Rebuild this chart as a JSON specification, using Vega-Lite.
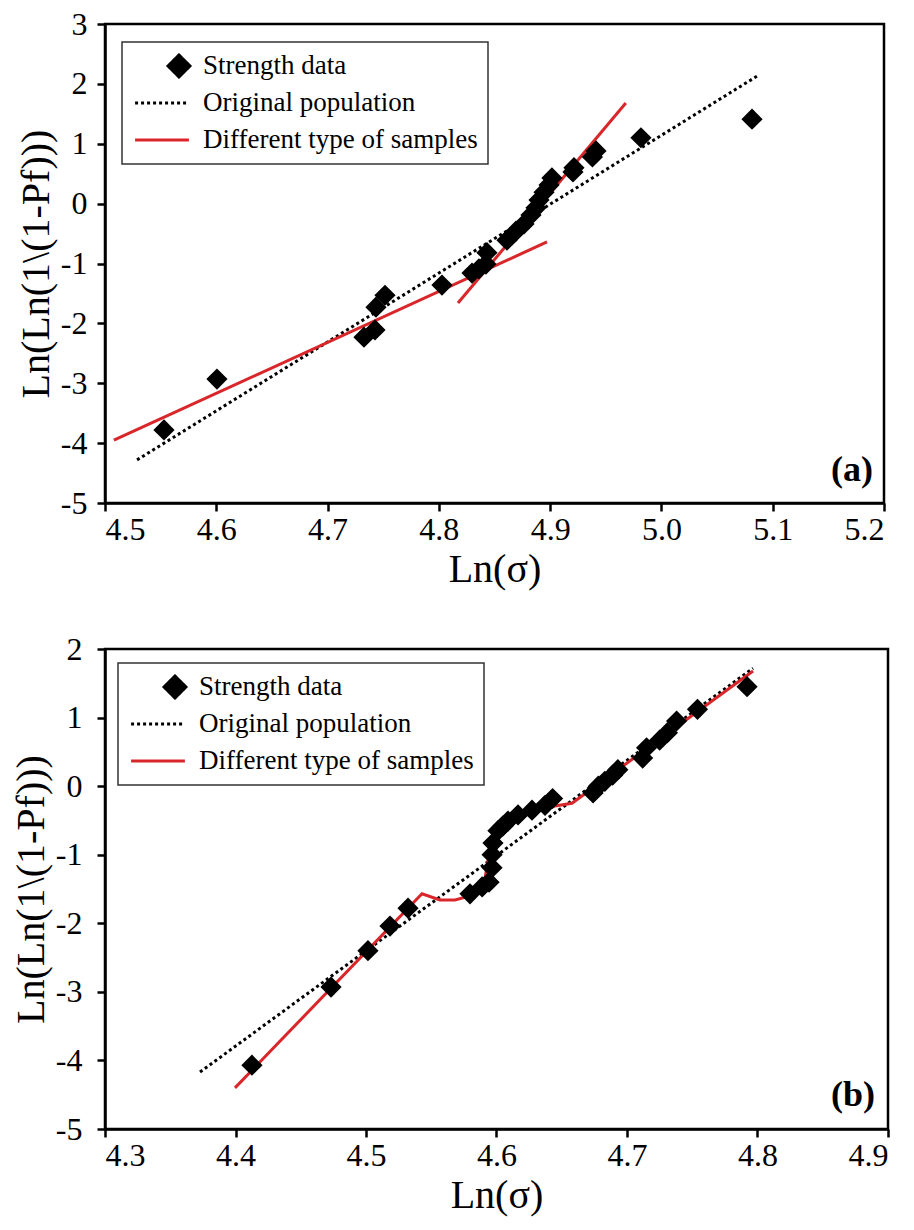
{
  "$schema": "https://vega.github.io/schema/vega-lite/v6.json",
  "background": "white",
  "padding": {"left": 10, "top": 6, "right": 5, "bottom": 5},
  "spacing": 40,
  "config": {
    "font": "Liberation Serif",
    "view": {"stroke": "black", "strokeWidth": 2.5},
    "axis": {
      "domainColor": "black", "domainWidth": 2.5,
      "tickColor": "black", "tickWidth": 2.5, "tickSize": 8,
      "labelFont": "Liberation Serif", "labelFontSize": 32, "labelColor": "black", "labelPadding": 3,
      "titleFont": "Liberation Serif", "titleFontSize": 40, "titleFontWeight": "normal", "titleColor": "black",
      "grid": false
    },
    "axisY": {"titlePadding": 4, "labelPadding": 10},
    "axisX": {"titlePadding": 4}
  },
  "resolve": {"scale": {"color": "independent"}, "legend": {"color": "independent"}},
  "vconcat": [
    {
      "width": 779,
      "height": 479,
      "encoding": {
        "x": {"field": "x", "type": "quantitative", "title": "Ln(σ)",
              "scale": {"domain": [4.5, 5.2], "nice": false, "zero": false},
              "axis": {"values": [4.5, 4.6, 4.7, 4.8, 4.9, 5.0, 5.1, 5.2], "format": ".1f"}},
        "y": {"field": "y", "type": "quantitative", "title": "Ln(Ln(1\\(1-Pf)))",
              "scale": {"domain": [-5, 3], "nice": false, "zero": false},
              "axis": {"values": [-5, -4, -3, -2, -1, 0, 1, 2, 3], "labelExpr": "replace(datum.label, '\u2212', '-')"}}
      },
      "layer": [
        {
          "data": {"values": [
            {"x": 4.5288, "y": -4.28, "series": "Original population"},
            {"x": 5.0877, "y": 2.15, "series": "Original population"}
          ]},
          "mark": {"type": "line", "strokeWidth": 3, "strokeDash": [3, 3], "strokeCap": "butt"},
          "encoding": {
            "color": {"field": "series", "type": "nominal",
              "scale": {"domain": ["Strength data", "Original population", "Different type of samples"], "range": ["black", "black", "#d9262a"]},
              "legend": {
                "orient": "none", "legendX": 17, "legendY": 18, "title": null,
                "strokeColor": "#333333", "padding": 10, "rowPadding": 9, "clipHeight": 28,
                "labelFont": "Liberation Serif", "labelFontSize": 27, "labelColor": "black", "labelLimit": 500, "labelOffset": 14,
                "symbolType": "stroke", "symbolSize": 2900, "symbolStrokeWidth": 3,
                "encode": {
                  "legend": {"update": {"strokeWidth": {"value": 1.5}}},
                  "symbols": {"update": {
                    "shape": {"signal": "datum.value === 'Strength data' ? 'diamond' : 'stroke'"},
                    "size": {"signal": "datum.value === 'Strength data' ? 480 : 2900"},
                    "x": {"signal": "datum.value === 'Strength data' ? 47 : 30"},
                    "fill": {"signal": "datum.value === 'Strength data' ? 'black' : 'transparent'"},
                    "stroke": {"signal": "datum.value === 'Strength data' ? 'transparent' : (datum.value === 'Original population' ? 'black' : '#d9262a')"},
                    "strokeDash": {"signal": "datum.value === 'Original population' ? [3, 3] : [1, 0]"},
                    "strokeWidth": {"value": 3},
                    "opacity": {"value": 1}
                  }}
                }
              }}
          }
        },
        {
          "data": {"values": [
            {"x": 4.508, "y": -3.95, "series": "Different type of samples", "seg": "r1"},
            {"x": 4.8972, "y": -0.64, "series": "Different type of samples", "seg": "r1"},
            {"x": 4.8172, "y": -1.66, "series": "Different type of samples", "seg": "r2"},
            {"x": 4.968, "y": 1.68, "series": "Different type of samples", "seg": "r2"}
          ]},
          "mark": {"type": "line", "strokeWidth": 3},
          "encoding": {
            "color": {"field": "series", "type": "nominal"},
            "detail": {"field": "seg", "type": "nominal"}
          }
        },
        {
          "data": {"values": [
            {"x": 4.553, "y": -3.78, "series": "Strength data"},
            {"x": 4.6006, "y": -2.93, "series": "Strength data"},
            {"x": 4.7327, "y": -2.23, "series": "Strength data"},
            {"x": 4.7426, "y": -2.11, "series": "Strength data"},
            {"x": 4.7435, "y": -1.73, "series": "Strength data"},
            {"x": 4.7516, "y": -1.53, "series": "Strength data"},
            {"x": 4.8028, "y": -1.36, "series": "Strength data"},
            {"x": 4.8298, "y": -1.16, "series": "Strength data"},
            {"x": 4.836, "y": -1.09, "series": "Strength data"},
            {"x": 4.8423, "y": -1.01, "series": "Strength data"},
            {"x": 4.8432, "y": -0.82, "series": "Strength data"},
            {"x": 4.8612, "y": -0.61, "series": "Strength data"},
            {"x": 4.8693, "y": -0.46, "series": "Strength data"},
            {"x": 4.8765, "y": -0.34, "series": "Strength data"},
            {"x": 4.8828, "y": -0.19, "series": "Strength data"},
            {"x": 4.8873, "y": -0.07, "series": "Strength data"},
            {"x": 4.89, "y": 0.06, "series": "Strength data"},
            {"x": 4.8945, "y": 0.19, "series": "Strength data"},
            {"x": 4.899, "y": 0.31, "series": "Strength data"},
            {"x": 4.9016, "y": 0.43, "series": "Strength data"},
            {"x": 4.9205, "y": 0.53, "series": "Strength data"},
            {"x": 4.9214, "y": 0.6, "series": "Strength data"},
            {"x": 4.938, "y": 0.78, "series": "Strength data"},
            {"x": 4.9412, "y": 0.88, "series": "Strength data"},
            {"x": 4.9816, "y": 1.1, "series": "Strength data"},
            {"x": 5.0814, "y": 1.41, "series": "Strength data"}
          ]},
          "mark": {"type": "point", "shape": "diamond", "filled": true, "size": 450, "opacity": 1},
          "encoding": {
            "color": {"field": "series", "type": "nominal"}
          }
        },
        {
          "data": {"values": [{"x": 5.19, "y": -4.45, "label": "(a)"}]},
          "mark": {"type": "text", "align": "right", "baseline": "middle", "font": "Liberation Serif", "fontSize": 36, "fontWeight": "bold", "color": "black"},
          "encoding": {"text": {"field": "label", "type": "nominal"}}
        }
      ]
    },
    {
      "width": 783,
      "height": 480,
      "encoding": {
        "x": {"field": "x", "type": "quantitative", "title": "Ln(σ)",
              "scale": {"domain": [4.3, 4.9], "nice": false, "zero": false},
              "axis": {"values": [4.3, 4.4, 4.5, 4.6, 4.7, 4.8, 4.9], "format": ".1f"}},
        "y": {"field": "y", "type": "quantitative", "title": "Ln(Ln(1\\(1-Pf)))",
              "scale": {"domain": [-5, 2], "nice": false, "zero": false},
              "axis": {"values": [-5, -4, -3, -2, -1, 0, 1, 2], "labelPadding": 15, "labelExpr": "replace(datum.label, '\u2212', '-')"}}
      },
      "layer": [
        {
          "data": {"values": [
            {"x": 4.3728, "y": -4.17, "series": "Original population"},
            {"x": 4.7966, "y": 1.72, "series": "Original population"}
          ]},
          "mark": {"type": "line", "strokeWidth": 3, "strokeDash": [3, 3], "strokeCap": "butt"},
          "encoding": {
            "color": {"field": "series", "type": "nominal",
              "scale": {"domain": ["Strength data", "Original population", "Different type of samples"], "range": ["black", "black", "#d9262a"]},
              "legend": {
                "orient": "none", "legendX": 13, "legendY": 14, "title": null,
                "strokeColor": "#333333", "padding": 10, "rowPadding": 9, "clipHeight": 28,
                "labelFont": "Liberation Serif", "labelFontSize": 27, "labelColor": "black", "labelLimit": 500, "labelOffset": 14,
                "symbolType": "stroke", "symbolSize": 2900, "symbolStrokeWidth": 3,
                "encode": {
                  "legend": {"update": {"strokeWidth": {"value": 1.5}}},
                  "symbols": {"update": {
                    "shape": {"signal": "datum.value === 'Strength data' ? 'diamond' : 'stroke'"},
                    "size": {"signal": "datum.value === 'Strength data' ? 480 : 2900"},
                    "x": {"signal": "datum.value === 'Strength data' ? 47 : 30"},
                    "fill": {"signal": "datum.value === 'Strength data' ? 'black' : 'transparent'"},
                    "stroke": {"signal": "datum.value === 'Strength data' ? 'transparent' : (datum.value === 'Original population' ? 'black' : '#d9262a')"},
                    "strokeDash": {"signal": "datum.value === 'Original population' ? [3, 3] : [1, 0]"},
                    "strokeWidth": {"value": 3},
                    "opacity": {"value": 1}
                  }}
                }
              }}
          }
        },
        {
          "data": {"values": [
            {"x": 4.3996, "y": -4.4, "series": "Different type of samples"},
            {"x": 4.5429, "y": -1.57, "series": "Different type of samples"},
            {"x": 4.5567, "y": -1.66, "series": "Different type of samples"},
            {"x": 4.5682, "y": -1.66, "series": "Different type of samples"},
            {"x": 4.5797, "y": -1.6, "series": "Different type of samples"},
            {"x": 4.5874, "y": -1.49, "series": "Different type of samples"},
            {"x": 4.5912, "y": -1.34, "series": "Different type of samples"},
            {"x": 4.5935, "y": -1.09, "series": "Different type of samples"},
            {"x": 4.5966, "y": -0.86, "series": "Different type of samples"},
            {"x": 4.6011, "y": -0.68, "series": "Different type of samples"},
            {"x": 4.6065, "y": -0.55, "series": "Different type of samples"},
            {"x": 4.6142, "y": -0.45, "series": "Different type of samples"},
            {"x": 4.6272, "y": -0.36, "series": "Different type of samples"},
            {"x": 4.6448, "y": -0.29, "series": "Different type of samples"},
            {"x": 4.6578, "y": -0.25, "series": "Different type of samples"},
            {"x": 4.7966, "y": 1.68, "series": "Different type of samples"}
          ]},
          "mark": {"type": "line", "strokeWidth": 3},
          "encoding": {
            "color": {"field": "series", "type": "nominal"}
          }
        },
        {
          "data": {"values": [
            {"x": 4.4126, "y": -4.07, "series": "Strength data"},
            {"x": 4.4732, "y": -2.93, "series": "Strength data"},
            {"x": 4.5015, "y": -2.4, "series": "Strength data"},
            {"x": 4.5184, "y": -2.04, "series": "Strength data"},
            {"x": 4.5322, "y": -1.78, "series": "Strength data"},
            {"x": 4.5797, "y": -1.57, "series": "Strength data"},
            {"x": 4.589, "y": -1.47, "series": "Strength data"},
            {"x": 4.5943, "y": -1.4, "series": "Strength data"},
            {"x": 4.5966, "y": -1.19, "series": "Strength data"},
            {"x": 4.5966, "y": -1.0, "series": "Strength data"},
            {"x": 4.5973, "y": -0.83, "series": "Strength data"},
            {"x": 4.6011, "y": -0.65, "series": "Strength data"},
            {"x": 4.605, "y": -0.58, "series": "Strength data"},
            {"x": 4.6088, "y": -0.51, "series": "Strength data"},
            {"x": 4.6165, "y": -0.42, "series": "Strength data"},
            {"x": 4.6272, "y": -0.35, "series": "Strength data"},
            {"x": 4.6372, "y": -0.28, "series": "Strength data"},
            {"x": 4.643, "y": -0.18, "series": "Strength data"},
            {"x": 4.674, "y": -0.1, "series": "Strength data"},
            {"x": 4.678, "y": 0.0, "series": "Strength data"},
            {"x": 4.683, "y": 0.07, "series": "Strength data"},
            {"x": 4.689, "y": 0.16, "series": "Strength data"},
            {"x": 4.693, "y": 0.24, "series": "Strength data"},
            {"x": 4.712, "y": 0.41, "series": "Strength data"},
            {"x": 4.715, "y": 0.56, "series": "Strength data"},
            {"x": 4.725, "y": 0.67, "series": "Strength data"},
            {"x": 4.731, "y": 0.78, "series": "Strength data"},
            {"x": 4.738, "y": 0.95, "series": "Strength data"},
            {"x": 4.754, "y": 1.12, "series": "Strength data"},
            {"x": 4.792, "y": 1.45, "series": "Strength data"}
          ]},
          "mark": {"type": "point", "shape": "diamond", "filled": true, "size": 450, "opacity": 1},
          "encoding": {
            "color": {"field": "series", "type": "nominal"}
          }
        },
        {
          "data": {"values": [{"x": 4.89, "y": -4.5, "label": "(b)"}]},
          "mark": {"type": "text", "align": "right", "baseline": "middle", "font": "Liberation Serif", "fontSize": 36, "fontWeight": "bold", "color": "black"},
          "encoding": {"text": {"field": "label", "type": "nominal"}}
        }
      ]
    }
  ]
}
